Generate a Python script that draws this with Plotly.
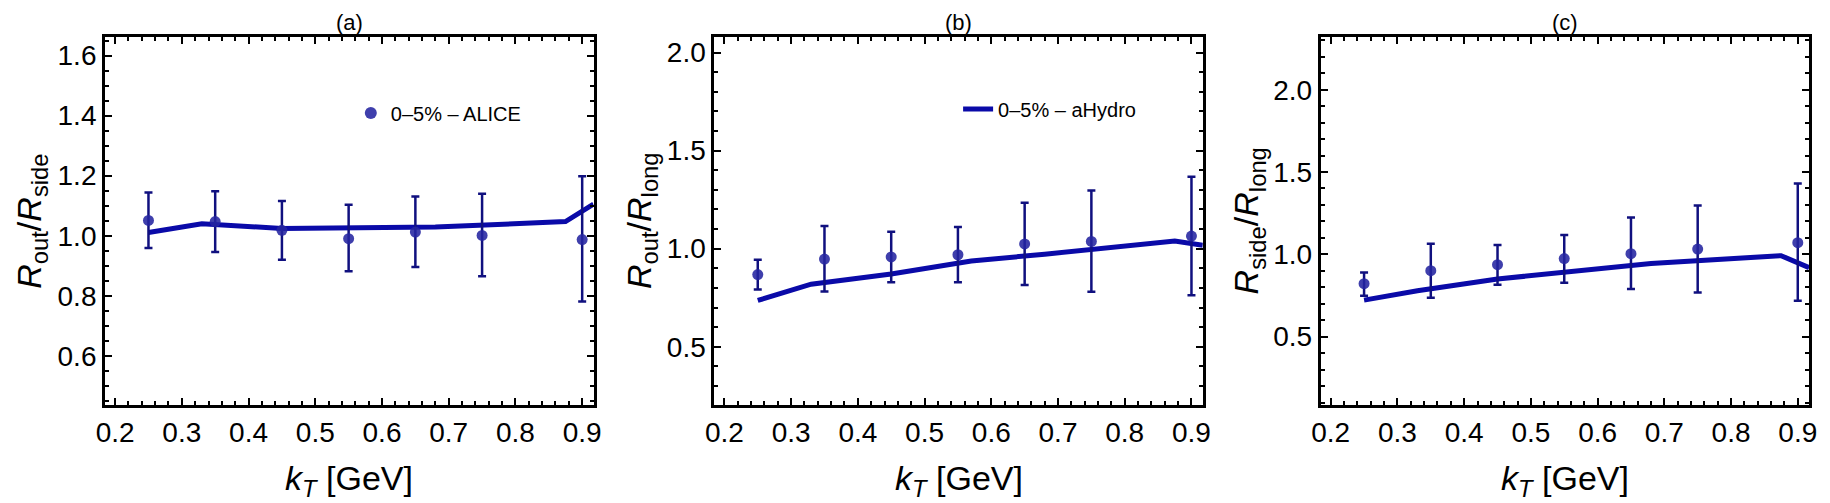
import plotly.graph_objects as go

# ---------------- data ----------------
kt_data = [0.25, 0.35, 0.45, 0.55, 0.65, 0.75, 0.90]

# (a) Rout/Rside
a_val = [1.051, 1.047, 1.018, 0.990, 1.012, 1.001, 0.987]
a_up = [1.144, 1.148, 1.116, 1.103, 1.131, 1.140, 1.198]
a_lo = [0.959, 0.946, 0.920, 0.882, 0.896, 0.865, 0.781]

# (b) Rout/Rlong
b_val = [0.868, 0.947, 0.958, 0.969, 1.024, 1.037, 1.064]
b_up = [0.944, 1.115, 1.086, 1.110, 1.234, 1.297, 1.366]
b_lo = [0.792, 0.781, 0.829, 0.829, 0.815, 0.780, 0.763]

# (c) Rside/Rlong
c_val = [0.822, 0.901, 0.937, 0.974, 1.004, 1.032, 1.071]
c_up = [0.890, 1.065, 1.057, 1.118, 1.223, 1.296, 1.430]
c_lo = [0.748, 0.736, 0.815, 0.828, 0.789, 0.769, 0.718]

# aHydro model curves
kt_model = [0.25, 0.33, 0.45, 0.57, 0.68, 0.875, 0.917]
a_model = [1.011, 1.040, 1.024, 1.028, 1.029, 1.047, 1.105]
b_model = [0.736, 0.819, 0.871, 0.937, 0.972, 1.039, 1.017]
c_model = [0.722, 0.779, 0.850, 0.900, 0.945, 0.992, 0.919]

panel_titles = ["(a)", "(b)", "(c)"]
y_titles = ["<i>R</i><sub>out</sub>/<i>R</i><sub>side</sub>",
            "<i>R</i><sub>out</sub>/<i>R</i><sub>long</sub>",
            "<i>R</i><sub>side</sub>/<i>R</i><sub>long</sub>"]
x_title = "<i>k</i><sub><i>T</i></sub> [GeV]"
y_ranges = [[0.436, 1.662], [0.203, 2.079], [0.085, 2.32]]
y_dticks = [0.2, 0.5, 0.5]
y_minor = [0.05, 0.1, 0.1]
x_range = [0.185, 0.917]

# ---------------- layout geometry ----------------
W, H = 1830, 503
T, B = 37, 98
plot_h = H - T - B
dom_px = [(97, 590), (712, 1205), (1324, 1817)]
ytitle_px = [22, 638, 1251]

FONT = "Liberation Sans, Arial, Helvetica, sans-serif"
MARK = "rgba(36,36,160,0.88)"
ERR = "#10107f"
LINE = "#0a0aa8"

fig = go.Figure()

datasets = [(a_val, a_up, a_lo, a_model), (b_val, b_up, b_lo, b_model), (c_val, c_up, c_lo, c_model)]
for i, (val, up, lo, mod) in enumerate(datasets):
    xa = "x" if i == 0 else f"x{i+1}"
    ya = "y" if i == 0 else f"y{i+1}"
    fig.add_trace(go.Scatter(
        x=kt_model, y=mod, mode="lines", xaxis=xa, yaxis=ya,
        line=dict(color=LINE, width=5),
        name="0\u20135% \u2013 aHydro", showlegend=(i == 1), legend="legend2",
    ))
    fig.add_trace(go.Scatter(
        x=kt_data, y=val, mode="markers", xaxis=xa, yaxis=ya,
        marker=dict(color=MARK, size=11, line=dict(width=0)),
        error_y=dict(type="data", symmetric=False,
                     array=[u - v for u, v in zip(up, val)],
                     arrayminus=[v - l for v, l in zip(val, lo)],
                     color=ERR, thickness=2.5, width=4),
        name="0\u20135% \u2013 ALICE", showlegend=(i == 0), legend="legend",
    ))

axis_common = dict(
    showline=True, linewidth=3, linecolor="black", mirror="ticks",
    ticks="inside", ticklen=7, tickwidth=2, tickcolor="black",
    showgrid=False, zeroline=False,
    tickfont=dict(family=FONT, size=28, color="black"),
)

layout = dict(
    width=W, height=H,
    margin=dict(l=0, r=0, t=T, b=B),
    paper_bgcolor="white", plot_bgcolor="white",
    font=dict(family=FONT, color="black"),
    legend=dict(x=345 / W, y=(H - B - 113) / plot_h, xanchor="left", yanchor="middle",
                font=dict(family=FONT, size=20, color="black"), bgcolor="rgba(0,0,0,0)",
                itemsizing="constant"),
    legend2=dict(x=958 / W, y=(H - B - 109) / plot_h, xanchor="left", yanchor="middle",
                 font=dict(family=FONT, size=20, color="black"), bgcolor="rgba(0,0,0,0)"),
)

annotations = []
for i in range(3):
    sfx = "" if i == 0 else str(i + 1)
    x0, x1 = dom_px[i]
    layout["xaxis" + sfx] = dict(
        axis_common, domain=[x0 / W, x1 / W], range=x_range, anchor="y" + sfx,
        dtick=0.1, tick0=0, tickformat=".1f",
        minor=dict(ticks="inside", ticklen=4, tickwidth=2, tickcolor="black", dtick=0.02, tick0=0),
    )
    layout["yaxis" + sfx] = dict(
        axis_common, domain=[0, 1], range=y_ranges[i], anchor="x" + sfx,
        dtick=y_dticks[i], tick0=0, tickformat=".1f",
        minor=dict(ticks="inside", ticklen=4, tickwidth=2, tickcolor="black", dtick=y_minor[i], tick0=0),
    )
    cx = (x0 + x1) / 2 / W
    annotations.append(dict(text=panel_titles[i], x=cx, y=(H - B - 22) / plot_h,
                            xref="paper", yref="paper", showarrow=False,
                            xanchor="center", yanchor="middle",
                            font=dict(family=FONT, size=22, color="black")))
    annotations.append(dict(text=x_title, x=cx, y=(H - B - 480) / plot_h,
                            xref="paper", yref="paper", showarrow=False,
                            xanchor="center", yanchor="middle",
                            font=dict(family=FONT, size=34, color="black")))
    annotations.append(dict(text=y_titles[i], x=ytitle_px[i] / W, y=0.5,
                            xref="paper", yref="paper", showarrow=False, textangle=-90,
                            xanchor="center", yanchor="middle",
                            font=dict(family=FONT, size=34, color="black")))

layout["annotations"] = annotations
fig.update_layout(**layout)
fig.write_html("out.html")
